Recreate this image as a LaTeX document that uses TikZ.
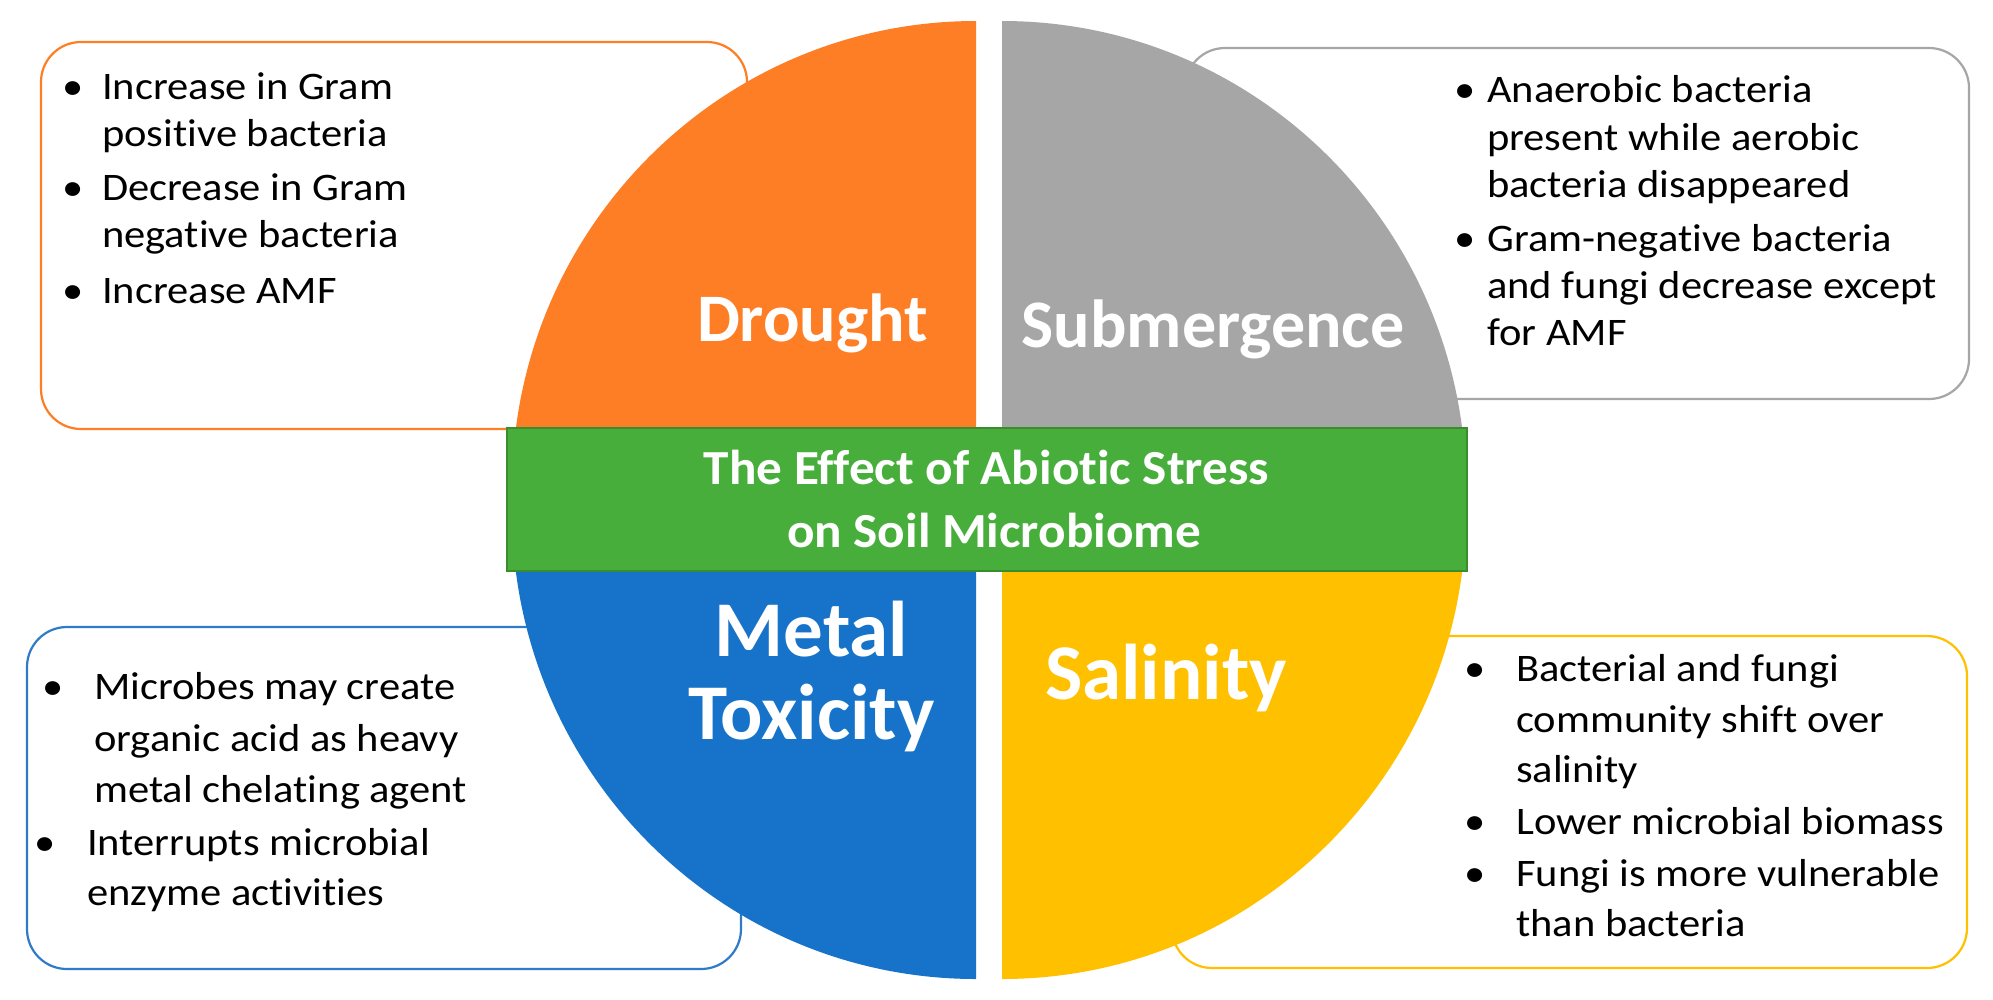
\documentclass[tikz,border=0pt]{standalone}
\usepackage{fontspec}
\setmainfont{Carlito}[Ligatures=NoCommon]
\newfontfamily\bodyfont{Carlito}[FakeStretch=1.09, Ligatures=NoCommon]
\newfontfamily\titlefont{Carlito}[FakeStretch=1.045, Ligatures=NoCommon]
\definecolor{cOrange}{HTML}{FD7E25}
\definecolor{cGray}{HTML}{A6A6A6}
\definecolor{cBlue}{HTML}{1673C9}
\definecolor{cYellow}{HTML}{FFC000}
\definecolor{cGreen}{HTML}{47AE3B}
\definecolor{cGreenDark}{HTML}{3A8C2F}
\definecolor{cBlueLine}{HTML}{2F7BC8}
\begin{document}
\begin{tikzpicture}[x=1pt,y=-1pt,
  infobox/.style={line width=2.2pt, fill=white, rounded corners=40pt},
  txt/.style={anchor=base west, inner sep=0pt, font=\bodyfont\fontsize{39}{47}\selectfont, text=black},
  blt/.style={anchor=base, inner sep=0pt, font=\bodyfont\fontsize{39}{47}\selectfont, text=black},
  biglabel/.style={anchor=base, inner sep=0pt, text=white, font=\bfseries\fontsize{#1}{#1}\selectfont},
  titletxt/.style={anchor=base, inner sep=0pt, text=white, font=\titlefont\bfseries\fontsize{49}{60}\selectfont}]
\useasboundingbox (0,0) rectangle (1993,999);
\fill[white] (0,0) rectangle (1993,999);
% information boxes (behind the pie)
\draw[infobox, draw=cOrange] (41,42) rectangle (747,429);
\draw[infobox, draw=cGray] (1185,48) rectangle (1969,399);
\draw[infobox, draw=cBlueLine] (27,627) rectangle (741,969);
\draw[infobox, draw=cYellow] (1172,636) rectangle (1967,968);
% pie quadrants
\fill[cOrange] (976,489) -- (512,489) arc[start angle=180, end angle=90, x radius=464pt, y radius=468pt] -- cycle;
\fill[cGray] (1002,489) -- (1002,21) arc[start angle=90, end angle=0, x radius=464pt, y radius=468pt] -- cycle;
\fill[cBlue] (976,511) -- (512,511) arc[start angle=180, end angle=270, x radius=464pt, y radius=468pt] -- cycle;
\fill[cYellow] (1002,511) -- (1466,511) arc[start angle=0, end angle=-90, x radius=464pt, y radius=468pt] -- cycle;
% central bar
\node[draw=cGreenDark, line width=2.5pt, fill=cGreen, minimum width=960pt, minimum height=143pt, inner sep=0pt] (bar) at (987,499.5) {};
\node[titletxt] (title1) at (986.5,484) {The Effect of Abiotic Stress};
\node[titletxt] (title2) at (994,547) {on Soil Microbiome};
% quadrant labels
\node[biglabel=68] (drought) at (812.5,341) {Drought};
\node[biglabel=68] (submergence) at (1213,347) {Submergence};
\node[biglabel=79] (metal) at (811.5,656) {Metal};
\node[biglabel=79] (toxicity) at (811.5,739) {Toxicity};
\node[biglabel=79] (salinity) at (1166,699) {Salinity};
% Drought text
\node[blt] (db1) at (73.5,99) {•};
\node[txt] (d1) at (102,99) {Increase in Gram};
\node[txt] (d2) at (102,146) {positive bacteria};
\node[blt] (db2) at (73.5,200) {•};
\node[txt] (d3) at (102,200) {Decrease in Gram};
\node[txt] (d4) at (102,247) {negative bacteria};
\node[blt] (db3) at (73.5,303) {•};
\node[txt] (d5) at (102,303) {Increase AMF};
% Submergence text
\node[blt] (sb1) at (1465,102) {•};
\node[txt] (s1) at (1487,102) {Anaerobic bacteria};
\node[txt] (s2) at (1487,150) {present while aerobic};
\node[txt] (s3) at (1487,197) {bacteria disappeared};
\node[blt] (sb2) at (1465,251) {•};
\node[txt] (s4) at (1487,251) {Gram-negative bacteria};
\node[txt] (s5) at (1487,298) {and fungi decrease except};
\node[txt] (s6) at (1487,345) {for AMF};
% Metal toxicity text
\node[blt] (mb1) at (53.5,699) {•};
\node[txt] (m1) at (94,699) {Microbes may create};
\node[txt] (m2) at (94,751) {organic acid as heavy};
\node[txt] (m3) at (94,802) {metal chelating agent};
\node[blt] (mb2) at (45.5,855) {•};
\node[txt] (m4) at (87,855) {Interrupts microbial};
\node[txt] (m5) at (87,905) {enzyme activities};
% Salinity text
\node[blt] (yb1) at (1475.5,681) {•};
\node[txt] (y1) at (1516,681) {Bacterial and fungi};
\node[txt] (y2) at (1516,732) {community shift over};
\node[txt] (y3) at (1516,782) {salinity};
\node[blt] (yb2) at (1475.5,834) {•};
\node[txt] (y4) at (1516,834) {Lower microbial biomass};
\node[blt] (yb3) at (1475.5,886) {•};
\node[txt] (y5) at (1516,886) {Fungi is more vulnerable};
\node[txt] (y6) at (1516,936) {than bacteria};
\end{tikzpicture}
\end{document}
